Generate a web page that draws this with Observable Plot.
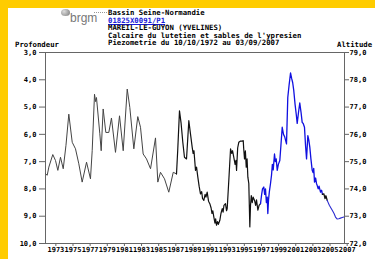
<!DOCTYPE html>
<html><head><meta charset="utf-8">
<script src="https://cdn.jsdelivr.net/npm/d3@7"></script>
<script src="https://cdn.jsdelivr.net/npm/@observablehq/plot@0.6"></script>
<style>
html,body{margin:0;padding:0;background:#fff;}
#wrap{position:relative;width:375px;height:259px;overflow:hidden;background:#fff;}
#wrap svg{position:absolute;left:0;top:0;}
.yl{position:absolute;background:#FFCC00;}
.t{position:absolute;font-family:'DejaVu Sans Mono',monospace;font-weight:bold;font-size:7.3px;line-height:7px;white-space:nowrap;color:#000;}
</style></head>
<body><div id="wrap"></div>
<script>
// Header texts
const header = ["Bassin Seine-Normandie","01825X0091/P1","MAREIL-LE-GUYON (YVELINES)","Calcaire du lutetien et sables de l'ypresien","Piezometrie du 10/10/1972 au 03/09/2007"];
const leftTitle = "Profondeur", rightTitle = "Altitude";
const xTicks = [1973,1975,1977,1979,1981,1983,1985,1987,1989,1991,1993,1995,1997,1999,2001,2003,2005,2007];
const yTicks = [3,4,5,6,7,8,9,10];
const altOffset = 82; // altitude = 82 - depth

// early manual series (gray)
const grayT = [1972.80,1972.97,1973.16,1973.62,1973.94,1974.21,1974.52,1974.84,1975.16,1975.49,1975.89,1976.27,1976.66,1977.05,1977.56,1978.02,1978.22,1978.49,1978.62,1978.72,1979.11,1979.27,1979.50,1979.81,1980.16,1980.47,1980.94,1981.41,1981.84,1982.31,1982.61,1983.08,1983.54,1983.86,1984.17,1984.56,1985.03,1985.61,1985.88,1986.19,1986.66,1987.16,1987.68,1988.06];
const grayD = [7.45,7.5,7.2,6.74,6.96,7.32,6.84,7.26,6.4,5.26,6.29,6.53,7.08,7.75,7.02,7.63,6.6,4.53,4.8,4.65,5.98,6.6,5.07,5.93,5.93,5.4,6.66,5.32,6.6,4.34,5.01,6.53,5.35,5.74,6.72,6.9,7.26,6.13,7.75,7.39,7.63,8.12,7.39,7.45];
// black series
const blackT = [1988.06,1988.2,1988.41,1988.6,1988.8,1988.99,1989.23,1989.5,1989.7,1989.89,1990.0,1990.1,1990.28,1990.4,1990.55,1990.7,1990.86,1991.0,1991.1,1991.25,1991.4,1991.5,1991.64,1991.8,1991.95,1992.1,1992.2,1992.3,1992.42,1992.55,1992.63,1992.73,1992.85,1992.95,1993.12,1993.25,1993.4,1993.5,1993.6,1993.78,1993.9,1993.98,1994.2,1994.37,1994.5,1994.6,1994.75,1994.9,1995.0,1995.07,1995.2,1995.33,1995.5,1995.7,1995.85,1995.9,1996.0,1996.1,1996.2,1996.3,1996.39,1996.5,1996.62,1996.7,1996.79,1996.9,1997.0,1997.17,1997.3,1997.4,1997.56,1997.7,1997.87];
const blackD = [7.45,6.6,5.14,5.6,6.3,6.84,6.9,5.5,6.0,6.47,6.7,6.6,7.32,7.2,7.57,7.9,8.18,8.1,8.35,8.42,8.2,8.3,8.12,8.45,8.54,8.7,8.9,8.8,9.03,9.25,9.1,9.33,9.2,9.3,9.15,8.9,8.72,8.85,8.6,8.54,8.8,8.72,7.5,6.53,6.7,6.6,6.84,7.1,6.95,7.32,6.5,6.29,6.25,6.25,6.23,6.5,6.9,6.6,7.2,6.9,7.57,7.8,9.39,8.6,8.24,8.5,8.3,8.42,8.6,8.4,8.78,8.6,8.54];
// blue series (automatic)
const blueT = [1997.87,1998.0,1998.1,1998.25,1998.35,1998.45,1998.55,1998.65,1998.72,1998.8,1998.9,1999.03,1999.15,1999.25,1999.35,1999.5,1999.6,1999.7,1999.82,1999.95,2000.12,2000.25,2000.4,2000.55,2000.7,2000.9,2001.05,2001.2,2001.37,2001.5,2001.62,2001.75,2001.9,2002.05,2002.15,2002.3,2002.45,2002.6,2002.73,2002.85,2003.0,2003.12,2003.24,2003.39,2003.5,2003.62,2003.75,2003.9,2004.0,2004.08,2004.17,2004.3,2004.4,2004.48,2004.6,2004.7,2004.87,2005.0,2005.1];
const blueD = [8.54,8.2,8.0,7.93,8.2,8.0,8.5,8.3,8.9,8.4,8.1,7.81,7.5,7.1,7.3,6.72,7.0,6.9,7.32,7.1,6.96,6.4,5.74,6.0,6.1,6.35,4.65,4.2,3.75,3.95,4.1,4.4,4.9,5.3,5.6,5.2,4.85,5.2,5.56,5.6,5.74,6.4,6.9,6.05,6.2,6.47,6.9,7.32,7.4,7.25,7.75,7.6,7.8,7.87,8.0,7.9,8.12,8.05,8.2];
const black2T = [2005.1,2005.26,2005.4,2005.5,2005.65];
const black2D = [8.2,8.18,8.35,8.25,8.42];
const blue2T = [2005.65,2005.9,2006.24,2006.45,2006.62,2006.8,2007.0,2007.2,2007.4,2007.59];
const blue2D = [8.42,8.6,8.78,8.9,9.03,9.1,9.09,9.07,9.05,9.03];

const rows = (T, D) => T.map((t, i) => ({t, d: D[i]}));
const fmt = v => v.toFixed(1).replace(".", ",");

const chart = Plot.plot({
  width: 375, height: 259,
  marginLeft: 45, marginRight: 31, marginTop: 52, marginBottom: 16,
  x: {domain: [1972.77, 2007.67]},
  y: {domain: [3, 10], reverse: true},
  style: {fontFamily: "'DejaVu Sans Mono', monospace", fontSize: "7px", fontWeight: "bold", background: "transparent", color: "#000"},
  marks: [
    Plot.frame({stroke: "#666"}),
    Plot.axisY(yTicks, {anchor: "left", tickSize: 6, tickPadding: 3, tickFormat: fmt, label: null, stroke: "#666"}),
    Plot.axisY(yTicks, {anchor: "right", tickSize: 4, tickPadding: 1, tickFormat: d => fmt(altOffset - d), label: null, stroke: "#666"}),
    Plot.axisX(xTicks, {anchor: "bottom", tickSize: 3, tickPadding: 1, tickFormat: d => String(d), dx: 8.4, label: null, stroke: "#666"}),
    Plot.line(rows(grayT, grayD), {x: "t", y: "d", stroke: "#444", strokeWidth: 1}),
    Plot.line(rows(blackT, blackD), {x: "t", y: "d", stroke: "#111", strokeWidth: 1.2}),
    Plot.line(rows(blueT, blueD), {x: "t", y: "d", stroke: "#1010e0", strokeWidth: 1.3}),
    Plot.line(rows(black2T, black2D), {x: "t", y: "d", stroke: "#111", strokeWidth: 1.3}),
    Plot.line(rows(blue2T, blue2D), {x: "t", y: "d", stroke: "#2a2ad0", strokeWidth: 1.1})
  ]
});
const wrap = document.getElementById("wrap");
wrap.appendChild(chart);

function addText(txt, left, top, extra) {
  const d = document.createElement("div");
  d.className = "t"; d.textContent = txt;
  d.style.left = left + "px"; d.style.top = top + "px";
  if (extra) Object.assign(d.style, extra);
  wrap.appendChild(d);
}
const tops = [8.5, 16.5, 24, 31.5, 39];
header.forEach((h, i) => addText(h, 108, tops[i], i === 1 ? {color: "#1a1ad8", textDecoration: "underline"} : null));
addText(leftTitle, 15, 40.5);
addText(rightTitle, 337, 40.5);

// logo
const logo = document.createElement("div");
Object.assign(logo.style, {position: "absolute", left: "61px", top: "9px", width: "9px", height: "7px", borderRadius: "50%", background: "radial-gradient(circle at 35% 35%, #ddd, #777)"});
wrap.appendChild(logo);
const brgm = document.createElement("div");
brgm.textContent = "brgm";
Object.assign(brgm.style, {position: "absolute", left: "70px", top: "12px", fontFamily: "'Liberation Sans', Arial, sans-serif", fontSize: "12px", lineHeight: "12px", color: "#777"});
wrap.appendChild(brgm);
const dots = document.createElement("div");
Object.assign(dots.style, {position: "absolute", left: "94px", top: "12px", width: "13px", height: "0", borderTop: "1px dotted #999"});
wrap.appendChild(dots);

// yellow frame
const y1 = document.createElement("div"); y1.className = "yl";
Object.assign(y1.style, {left: "0px", top: "0px", width: "8px", height: "259px"});
const y2 = document.createElement("div"); y2.className = "yl";
Object.assign(y2.style, {left: "0px", top: "0px", width: "375px", height: "8px"});
wrap.appendChild(y1); wrap.appendChild(y2);
</script>
</body></html>
